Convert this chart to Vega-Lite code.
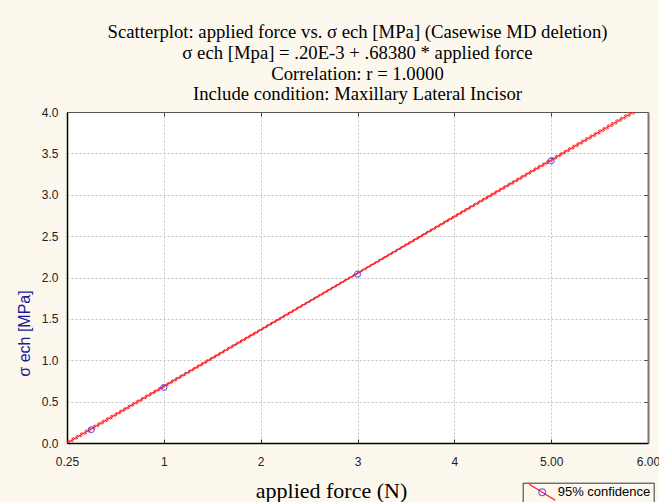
{
  "$schema": "https://vega.github.io/schema/vega-lite/v6.json",
  "width": 581,
  "height": 331,
  "autosize": {"type": "none"},
  "padding": {"left": 67, "top": 112, "right": 11, "bottom": 59},
  "background": "#fdf8ee",
  "config": {
    "view": {"fill": "white", "stroke": "#666", "strokeWidth": 1},
    "font": "Liberation Sans"
  },
  "title": {
    "text": [
      "Scatterplot: applied force vs. σ ech [MPa] (Casewise MD deletion)",
      "σ ech [Mpa] = .20E-3 + .68380 * applied force",
      "Correlation: r = 1.0000",
      "Include condition:  Maxillary Lateral Incisor"
    ],
    "font": "Liberation Serif",
    "fontSize": 18.7,
    "fontWeight": "normal",
    "color": "#000000",
    "lineHeight": 20.7,
    "anchor": "middle",
    "frame": "group",
    "offset": 2
  },
  "datasets": {
    "points": [
      {"force": 0.25, "stress": 0.16, "series": "95% confidence"},
      {"force": 1, "stress": 0.67, "series": "95% confidence"},
      {"force": 3, "stress": 2.04, "series": "95% confidence"},
      {"force": 5, "stress": 3.41, "series": "95% confidence"}
    ],
    "lines": [
      {"force": 0, "stress": 0.0002, "curve": "fit", "band": "95% confidence"},
      {"force": 6, "stress": 4.103, "curve": "fit", "band": "95% confidence"},
      {"force": 0, "stress": -0.02, "curve": "lower", "band": "95% confidence"},
      {"force": 3, "stress": 2.043, "curve": "lower", "band": "95% confidence"},
      {"force": 6, "stress": 4.08, "curve": "lower", "band": "95% confidence"},
      {"force": 0, "stress": 0.02, "curve": "upper", "band": "95% confidence"},
      {"force": 3, "stress": 2.060, "curve": "upper", "band": "95% confidence"},
      {"force": 6, "stress": 4.126, "curve": "upper", "band": "95% confidence"}
    ]
  },
  "layer": [
    {
      "data": {"name": "lines"},
      "transform": [{"filter": "datum.curve != 'fit'"}],
      "mark": {"type": "line", "color": "#ff2a2a", "strokeDash": [3, 2], "strokeWidth": 1, "clip": true},
      "encoding": {
        "x": {"field": "force", "type": "quantitative", "scale": {"domain": [0, 6], "nice": false, "zero": false}, "axis": null},
        "y": {"field": "stress", "type": "quantitative", "scale": {"domain": [0, 4], "nice": false}, "axis": null},
        "detail": {"field": "curve"}
      }
    },
    {
      "data": {"name": "lines"},
      "transform": [{"filter": "datum.curve == 'fit'"}],
      "mark": {"type": "line", "strokeWidth": 1.3, "clip": true},
      "encoding": {
        "x": {"field": "force", "type": "quantitative", "scale": {"domain": [0, 6], "nice": false, "zero": false},
          "axis": {"orient": "top", "labels": false, "title": null, "grid": false, "values": [1, 2, 3, 4, 5], "tickSize": -4, "tickColor": "#444", "domainColor": "#555", "domainWidth": 1}},
        "y": {"field": "stress", "type": "quantitative", "scale": {"domain": [0, 4], "nice": false},
          "axis": {"orient": "right", "labels": false, "title": null, "grid": false, "values": [0.5, 1, 1.5, 2, 2.5, 3, 3.5], "tickSize": -4, "tickColor": "#444", "domainColor": "#777", "domainWidth": 2}},
        "stroke": {"field": "band", "type": "nominal", "scale": {"range": ["#ff1a1a"]},
          "legend": {
            "orient": "none", "legendX": 455.7, "legendY": 370.7,
            "title": null, "strokeColor": "#333", "padding": 3,
            "labelFont": "Liberation Sans", "labelFontSize": 13, "labelColor": "#000", "labelOffset": 9,
            "symbolType": "M-2.6,-1.6L2.6,1.6", "symbolSize": 100, "symbolStrokeWidth": 1.2, "symbolOffset": 10
          }}
      }
    },
    {
      "data": {"name": "points"},
      "mark": {"type": "point", "shape": "circle", "filled": false, "size": 36, "strokeWidth": 1.2},
      "encoding": {
        "x": {"field": "force", "type": "quantitative", "scale": {"domain": [0, 6], "nice": false, "zero": false},
          "axis": {
            "orient": "bottom",
            "values": [0, 1, 2, 3, 4, 5, 6],
            "labelExpr": "datum.value == 0 ? '0.25' : (datum.value >= 5 ? format(datum.value, '.2f') : datum.label)",
            "labelFont": "Liberation Sans", "labelFontSize": 12, "labelColor": "#222", "labelFlush": false,
            "tickSize": -4, "tickColor": "#333", "labelPadding": 17,
            "domainColor": "#000", "domainWidth": 1.5,
            "grid": true, "gridColor": "#c4c4c4", "gridDash": [2, 2],
            "title": "applied force (N)",
            "titleFont": "Liberation Serif", "titleFontSize": 22, "titleFontWeight": "normal", "titleColor": "#000",
            "titleX": 264, "titleY": 54, "titleBaseline": "alphabetic"
          }},
        "y": {"field": "stress", "type": "quantitative", "scale": {"domain": [0, 4], "nice": false},
          "axis": {
            "orient": "left",
            "values": [0, 0.5, 1, 1.5, 2, 2.5, 3, 3.5, 4],
            "format": ".1f",
            "labelFont": "Liberation Sans", "labelFontSize": 12, "labelColor": "#222",
            "tickSize": 0, "labelPadding": 9,
            "domainColor": "#000", "domainWidth": 1.5,
            "grid": true, "gridColor": "#c4c4c4", "gridDash": [2, 2],
            "title": "σ ech [MPa]",
            "titleFont": "Liberation Sans", "titleFontSize": 16, "titleFontWeight": "normal", "titleColor": "#1a1aa0",
            "titleX": -38, "titleY": 221, "titleBaseline": "alphabetic"
          }},
        "color": {"field": "series", "type": "nominal", "scale": {"range": ["#3030ff"]},
          "legend": {
            "orient": "none", "legendX": 455.7, "legendY": 370.7,
            "title": null, "padding": 3,
            "labelFont": "Liberation Sans", "labelFontSize": 13, "labelColor": "transparent", "labelExpr": "''",
            "symbolType": "circle", "symbolSize": 45, "symbolStrokeWidth": 1.2, "symbolFillColor": "transparent", "symbolOffset": 10
          }}
      }
    }
  ],
  "resolve": {"axis": {"x": "independent", "y": "independent"}}
}
